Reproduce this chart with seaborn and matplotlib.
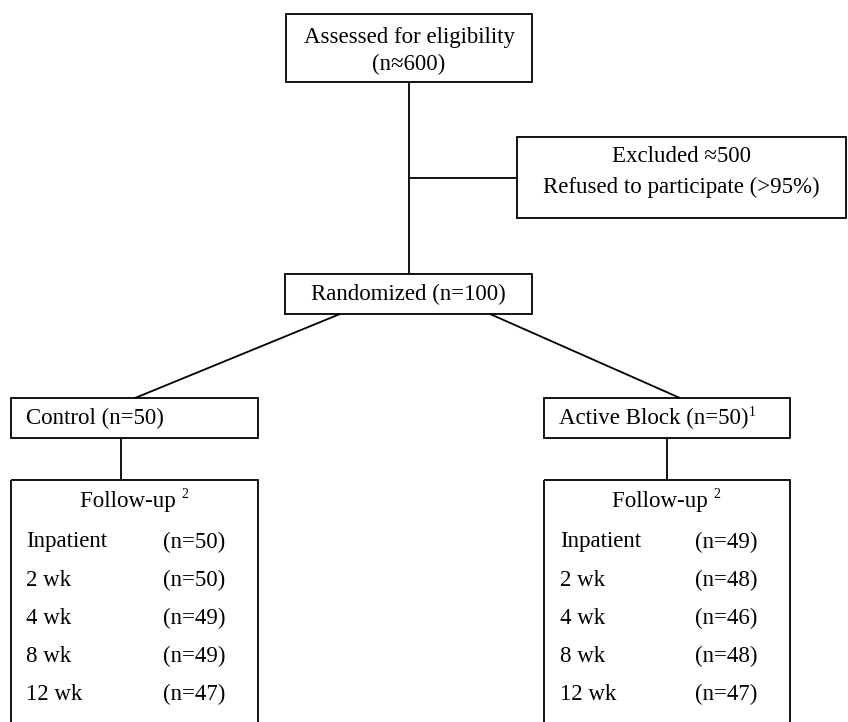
import numpy as np
import pandas as pd
import matplotlib.pyplot as plt
import matplotlib.patches as patches
import seaborn as sns

sns.set_style("white")
plt.rcParams['font.family'] = ['Liberation Serif', 'DejaVu Serif']
plt.rcParams['text.color'] = 'black'

# flow numbers
assessed = "≈600"
excluded = "≈500"
refused_pct = ">95%"
randomized = 100
groups = ["Control", "Active Block"]
group_n = [50, 50]
timepoints = ["Inpatient", "2 wk", "4 wk", "8 wk", "12 wk"]
control_n = [50, 50, 49, 49, 47]
active_n = [49, 48, 46, 48, 47]

fs = 16.5
lw = 1.3

fig = plt.figure(figsize=(8.48, 7.22), dpi=100)
ax = fig.add_axes([0, 0, 1, 1])
ax.set_xlim(0, 848)
ax.set_ylim(722, 0)
ax.axis('off')

def box(x0, y0, x1, y1):
    ax.add_patch(patches.Rectangle((x0, y0), x1 - x0, y1 - y0, fill=False,
                                   edgecolor='black', lw=lw, clip_on=True))

def line(xs, ys):
    ax.plot(xs, ys, color='black', lw=lw, solid_capstyle='butt')

# assessed
box(286, 14, 532, 82)
ax.text(409, 37, "Assessed for eligibility", ha='center', va='center', fontsize=fs)
ax.text(409, 64, f"(n{assessed})", ha='center', va='center', fontsize=fs)

# main trunk + excluded branch
line([409, 409], [82, 274])
line([409, 517], [178, 178])
box(517, 137, 846, 218)
ax.text(681, 156, f"Excluded {excluded}", ha='center', va='center', fontsize=fs)
ax.text(681, 187, f"Refused to participate ({refused_pct})", ha='center', va='center', fontsize=fs)

# randomized
box(285, 274, 532, 314)
ax.text(408.5, 294, f"Randomized (n={randomized})", ha='center', va='center', fontsize=fs)

# arms
arms = [
    dict(x0=11, x1=258, stem=121, diag=(340, 135), vals=control_n, lx=26, vx=163, sup=None),
    dict(x0=544, x1=790, stem=667, diag=(490, 680), vals=active_n, lx=560, vx=695, sup="1"),
]
for g, n, a in zip(groups, group_n, arms):
    line([a['diag'][0], a['diag'][1]], [314, 398])
    box(a['x0'], 398, a['x1'], 438)
    t = ax.text(a['x0'] + 15, 418, f"{g} (n={n})", ha='left', va='center', fontsize=fs)
    if a['sup']:
        ax.annotate(a['sup'], xy=(1.0, 0.78), xycoords=t, ha='left', va='center',
                    fontsize=fs * 0.6)
    line([a['stem'], a['stem']], [438, 480])
    box(a['x0'], 480, a['x1'], 760)
    cx = (a['x0'] + a['x1']) / 2
    ft = ax.text(cx - 4, 501, "Follow-up ", ha='center', va='center', fontsize=fs)
    ax.annotate("2", xy=(1.0, 0.8), xycoords=ft, ha='left', va='center',
                fontsize=fs * 0.6)
    for i, (tp, v) in enumerate(zip(timepoints, a['vals'])):
        y = 542 + i * 38
        ax.text(a['lx'], y, tp, ha='left', va='center', fontsize=fs)
        ax.text(a['vx'], y, f"(n={v})", ha='left', va='center', fontsize=fs)

fig.savefig("out.png", dpi=100)
